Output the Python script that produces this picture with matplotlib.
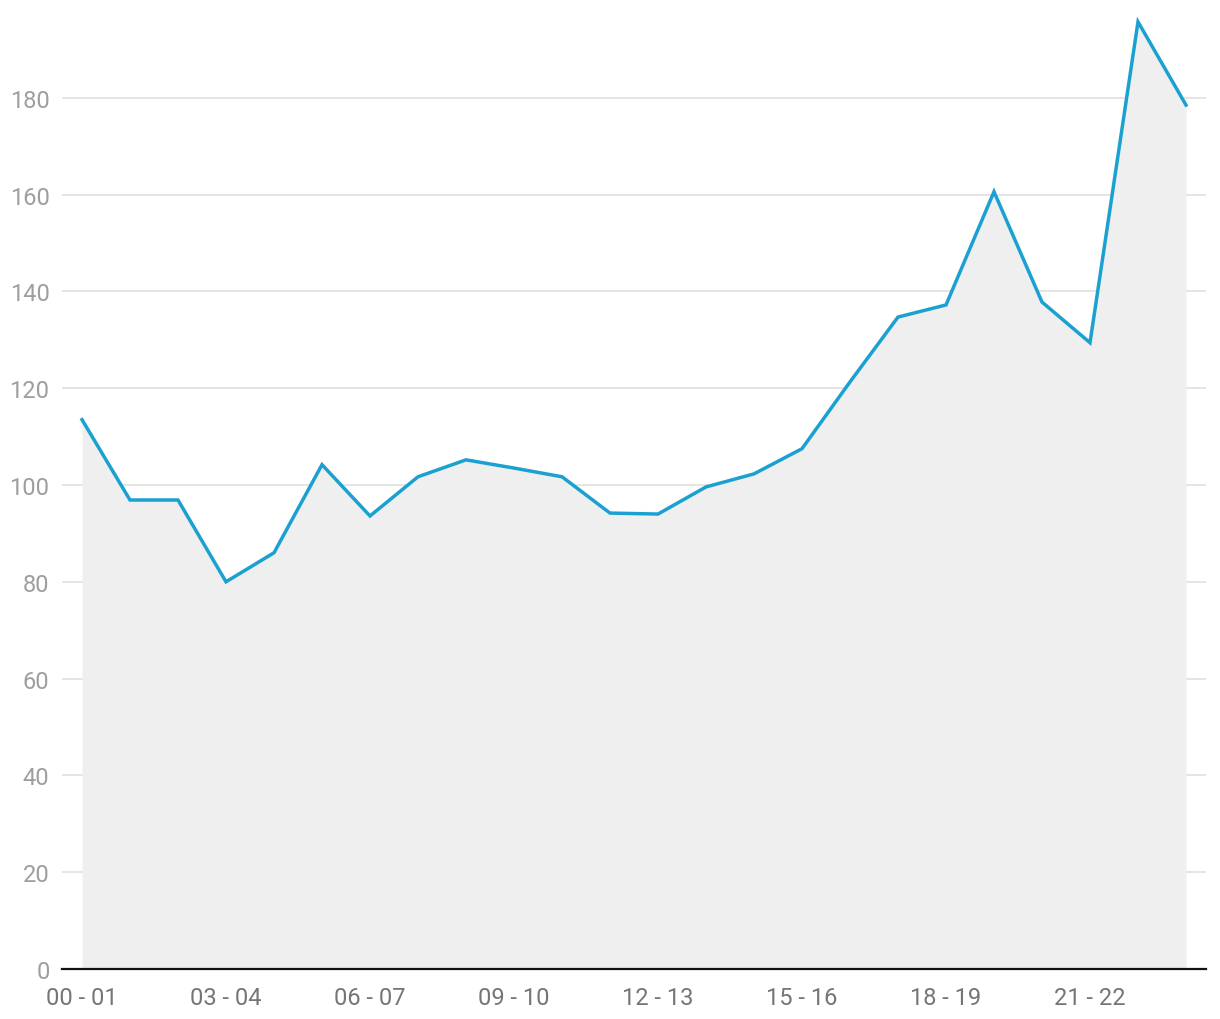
import matplotlib
matplotlib.use("Agg")
import matplotlib.pyplot as plt

plt.rcParams['font.family'] = ['Roboto', 'DejaVu Sans']

hours = ["00 - 01", "01 - 02", "02 - 03", "03 - 04", "04 - 05", "05 - 06",
         "06 - 07", "07 - 08", "08 - 09", "09 - 10", "10 - 11", "11 - 12",
         "12 - 13", "13 - 14", "14 - 15", "15 - 16", "16 - 17", "17 - 18",
         "18 - 19", "19 - 20", "20 - 21", "21 - 22", "22 - 23", "23 - 00"]
values = [113.5, 96.9, 96.9, 80.0, 86.0, 104.2, 93.6, 101.7, 105.2, 103.5,
          101.7, 94.2, 94.0, 99.6, 102.3, 107.5, 121.3, 134.7, 137.2, 160.6,
          137.8, 129.4, 195.7, 178.5]
yticks = [0, 20, 40, 60, 80, 100, 120, 140, 160, 180]

fig = plt.figure(figsize=(12.2, 10.2), dpi=100)
ax = fig.add_axes([62/1220, 50/1020, (1206-62)/1220, 968/1020])

x = list(range(len(values)))
ax.fill_between(x, values, 0, color='#efefef', linewidth=0, zorder=1)
ax.plot(x, values, color='#1ba1d1', linewidth=2.5, zorder=3, solid_joinstyle='miter')

ax.set_xlim(-20/48, len(values) - 1 + 20/48)
ax.set_ylim(0, 200)
ax.set_yticks(yticks)
ax.set_yticklabels([str(v) for v in yticks])
ax.set_xticks(x[::3])
ax.set_xticklabels(hours[::3])

ax.grid(axis='y', color='#e0e0e0', linewidth=1.2, zorder=0)
ax.set_axisbelow(True)
for s in ['top', 'right', 'left']:
    ax.spines[s].set_visible(False)
ax.spines['bottom'].set_color('#111111')
ax.spines['bottom'].set_linewidth(1.6)
ax.spines['bottom'].set_zorder(4)

ax.tick_params(axis='y', length=0, pad=9, labelsize=17, labelcolor='#9e9e9e')
ax.tick_params(axis='x', length=0, pad=12, labelsize=17, labelcolor='#757575')

fig.savefig("out.png", dpi=100, facecolor='white')
